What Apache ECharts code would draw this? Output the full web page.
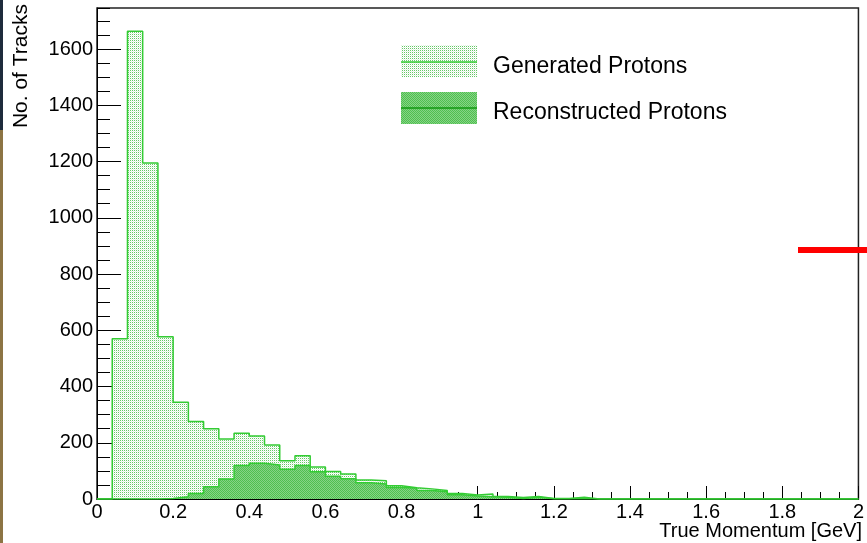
<!DOCTYPE html>
<html>
<head>
<meta charset="utf-8">
<script src="https://cdn.jsdelivr.net/npm/echarts@6/dist/echarts.min.js"></script>
<style>
html,body{margin:0;padding:0;background:#fff;}
#chart{width:867px;height:543px;}
</style>
</head>
<body>
<div id="chart"></div>
<script>
// ---- data ----
const binWidth = 0.04;       // GeV, 50 bins from 0 to 2
const seriesNames = ['Generated Protons', 'Reconstructed Protons'];
const generated = [
  0, 570, 1663, 1195, 577, 344, 276, 250, 213, 234,
  224, 192, 136, 154, 114, 98, 89, 68, 65, 47,
  40, 36, 30, 20, 14, 18, 9, 5, 9, 2,
  2, 6, 0, 0, 0, 0, 0, 0, 0, 0,
  0, 0, 0, 0, 0, 0, 0, 0, 0, 0
];
const reconstructed = [
  0, 0, 0, 0, 2, 8, 20, 44, 71, 119,
  127, 121, 106, 119, 97, 81, 72, 58, 53, 41,
  39, 30, 26, 15, 11, 8, 6, 2, 6, 1,
  1, 2, 0, 0, 0, 0, 0, 0, 0, 0,
  0, 0, 0, 0, 0, 0, 0, 0, 0, 0
];
const xTitle = 'True Momentum [GeV]';
const yTitle = 'No. of Tracks';
const xMin = 0, xMax = 2, xInterval = 0.2;
const yMin = 0, yMax = 1746, yInterval = 200, yMinorInterval = 50;

// ---- helpers ----
function steps(vals) {
  const pts = [[0, 0]];
  vals.forEach((v, i) => {
    const lo = +(i * binWidth).toFixed(4), hi = +((i + 1) * binWidth).toFixed(4);
    pts.push([lo, v], [hi, v]);
  });
  pts.push([xMax, 0]);
  return pts;
}
function makePattern(size, pixels, bg) {
  const c = document.createElement('canvas');
  c.width = size; c.height = size;
  const ctx = c.getContext('2d');
  ctx.fillStyle = bg; ctx.fillRect(0, 0, size, size);
  pixels.forEach(p => { ctx.fillStyle = p[2]; ctx.fillRect(p[0], p[1], 1, 1); });
  return c;
}
const genCanvas = makePattern(2, [[0,0,'#66c866'],[1,1,'#e4f4e4']], '#ffffff');
const recoCanvas = makePattern(2, [[0,0,'#4fc04f'],[1,1,'#4fc04f']], '#86d386');
const genFill = { image: genCanvas, repeat: 'repeat' };
const recoFill = { image: recoCanvas, repeat: 'repeat' };
const green = '#33cc33';
const font = 'Liberation Sans, Arial, Helvetica, sans-serif';

const chart = echarts.init(document.getElementById('chart'), null, { renderer: 'canvas' });
chart.setOption({
  animation: false,
  backgroundColor: '#ffffff',
  grid: { left: 97, right: 4, top: 8, bottom: 44, show: true, borderColor: '#222', borderWidth: 1.5, containLabel: false },
  xAxis: {
    type: 'value', min: xMin, max: xMax, interval: xInterval,
    axisLine: { show: true, onZero: false, lineStyle: { color: '#000', width: 1 } },
    axisTick: { show: true, inside: true, length: 13, lineStyle: { color: '#000' } },
    minorTick: { show: true, splitNumber: 4, length: 7, lineStyle: { color: '#000' } },
    axisLabel: { fontSize: 20, color: '#000', fontFamily: font, margin: 3,
      formatter: v => String(+v.toFixed(2)) },
    splitLine: { show: false }
  },
  yAxis: [{
    type: 'value', min: yMin, max: yMax, interval: yInterval,
    axisLine: { show: true, onZero: false, lineStyle: { color: '#000', width: 1 } },
    axisTick: { show: true, inside: true, length: 24, lineStyle: { color: '#000' } },
    axisLabel: { fontSize: 20, color: '#000', fontFamily: font, margin: 4, showMaxLabel: false,
      formatter: v => String(Math.round(v)) },
    splitLine: { show: false }
  }, {
    type: 'value', min: yMin, max: yMax, interval: yMinorInterval, position: 'left',
    axisLine: { show: false },
    axisTick: { show: true, inside: true, length: 13, lineStyle: { color: '#000' } },
    axisLabel: { show: false },
    splitLine: { show: false }
  }],
  series: [{
    name: seriesNames[0], type: 'line', data: steps(generated),
    showSymbol: false, symbol: 'none', z: 2,
    lineStyle: { color: green, width: 1.5 },
    areaStyle: { color: genFill, opacity: 1 }
  }, {
    name: seriesNames[1], type: 'line', data: steps(reconstructed),
    showSymbol: false, symbol: 'none', z: 3,
    lineStyle: { color: green, width: 1.5 },
    areaStyle: { color: recoFill, opacity: 1 }
  }],
  graphic: [
    { type: 'rect', shape: { x: 0, y: 0, width: 3, height: 130 }, style: { fill: '#1e2b3c' }, z: 10 },
    { type: 'rect', shape: { x: 0, y: 130, width: 3, height: 413 }, style: { fill: '#8c7444' }, z: 10 },
    { type: 'text', x: 21, y: 4, rotation: Math.PI / 2,
      style: { text: yTitle, fontSize: 21, fontFamily: font, fill: '#000', align: 'right', verticalAlign: 'middle' } },
    { type: 'text', x: 862, y: 531,
      style: { text: xTitle, fontSize: 20, fontFamily: font, fill: '#000', align: 'right', verticalAlign: 'middle' } },
    // legend
    { type: 'rect', shape: { x: 401, y: 45, width: 76, height: 32 }, style: { fill: genFill } , z: 5},
    { type: 'line', shape: { x1: 401, y1: 62, x2: 477, y2: 62 }, style: { stroke: green, lineWidth: 1.5 }, z: 6 },
    { type: 'text', x: 493, y: 67, style: { text: seriesNames[0], fontSize: 23, fontFamily: font, fill: '#000', verticalAlign: 'middle' }, z: 6 },
    { type: 'rect', shape: { x: 401, y: 92, width: 76, height: 32 }, style: { fill: recoFill }, z: 5 },
    { type: 'line', shape: { x1: 401, y1: 108, x2: 477, y2: 108 }, style: { stroke: '#119911', lineWidth: 1.5 }, z: 6 },
    { type: 'text', x: 493, y: 113, style: { text: seriesNames[1], fontSize: 23, fontFamily: font, fill: '#000', verticalAlign: 'middle' }, z: 6 },
    // red marker at right edge
    { type: 'rect', shape: { x: 798, y: 247, width: 69, height: 6 }, style: { fill: '#ff0000' }, z: 10 }
  ]
});
</script>
</body>
</html>
